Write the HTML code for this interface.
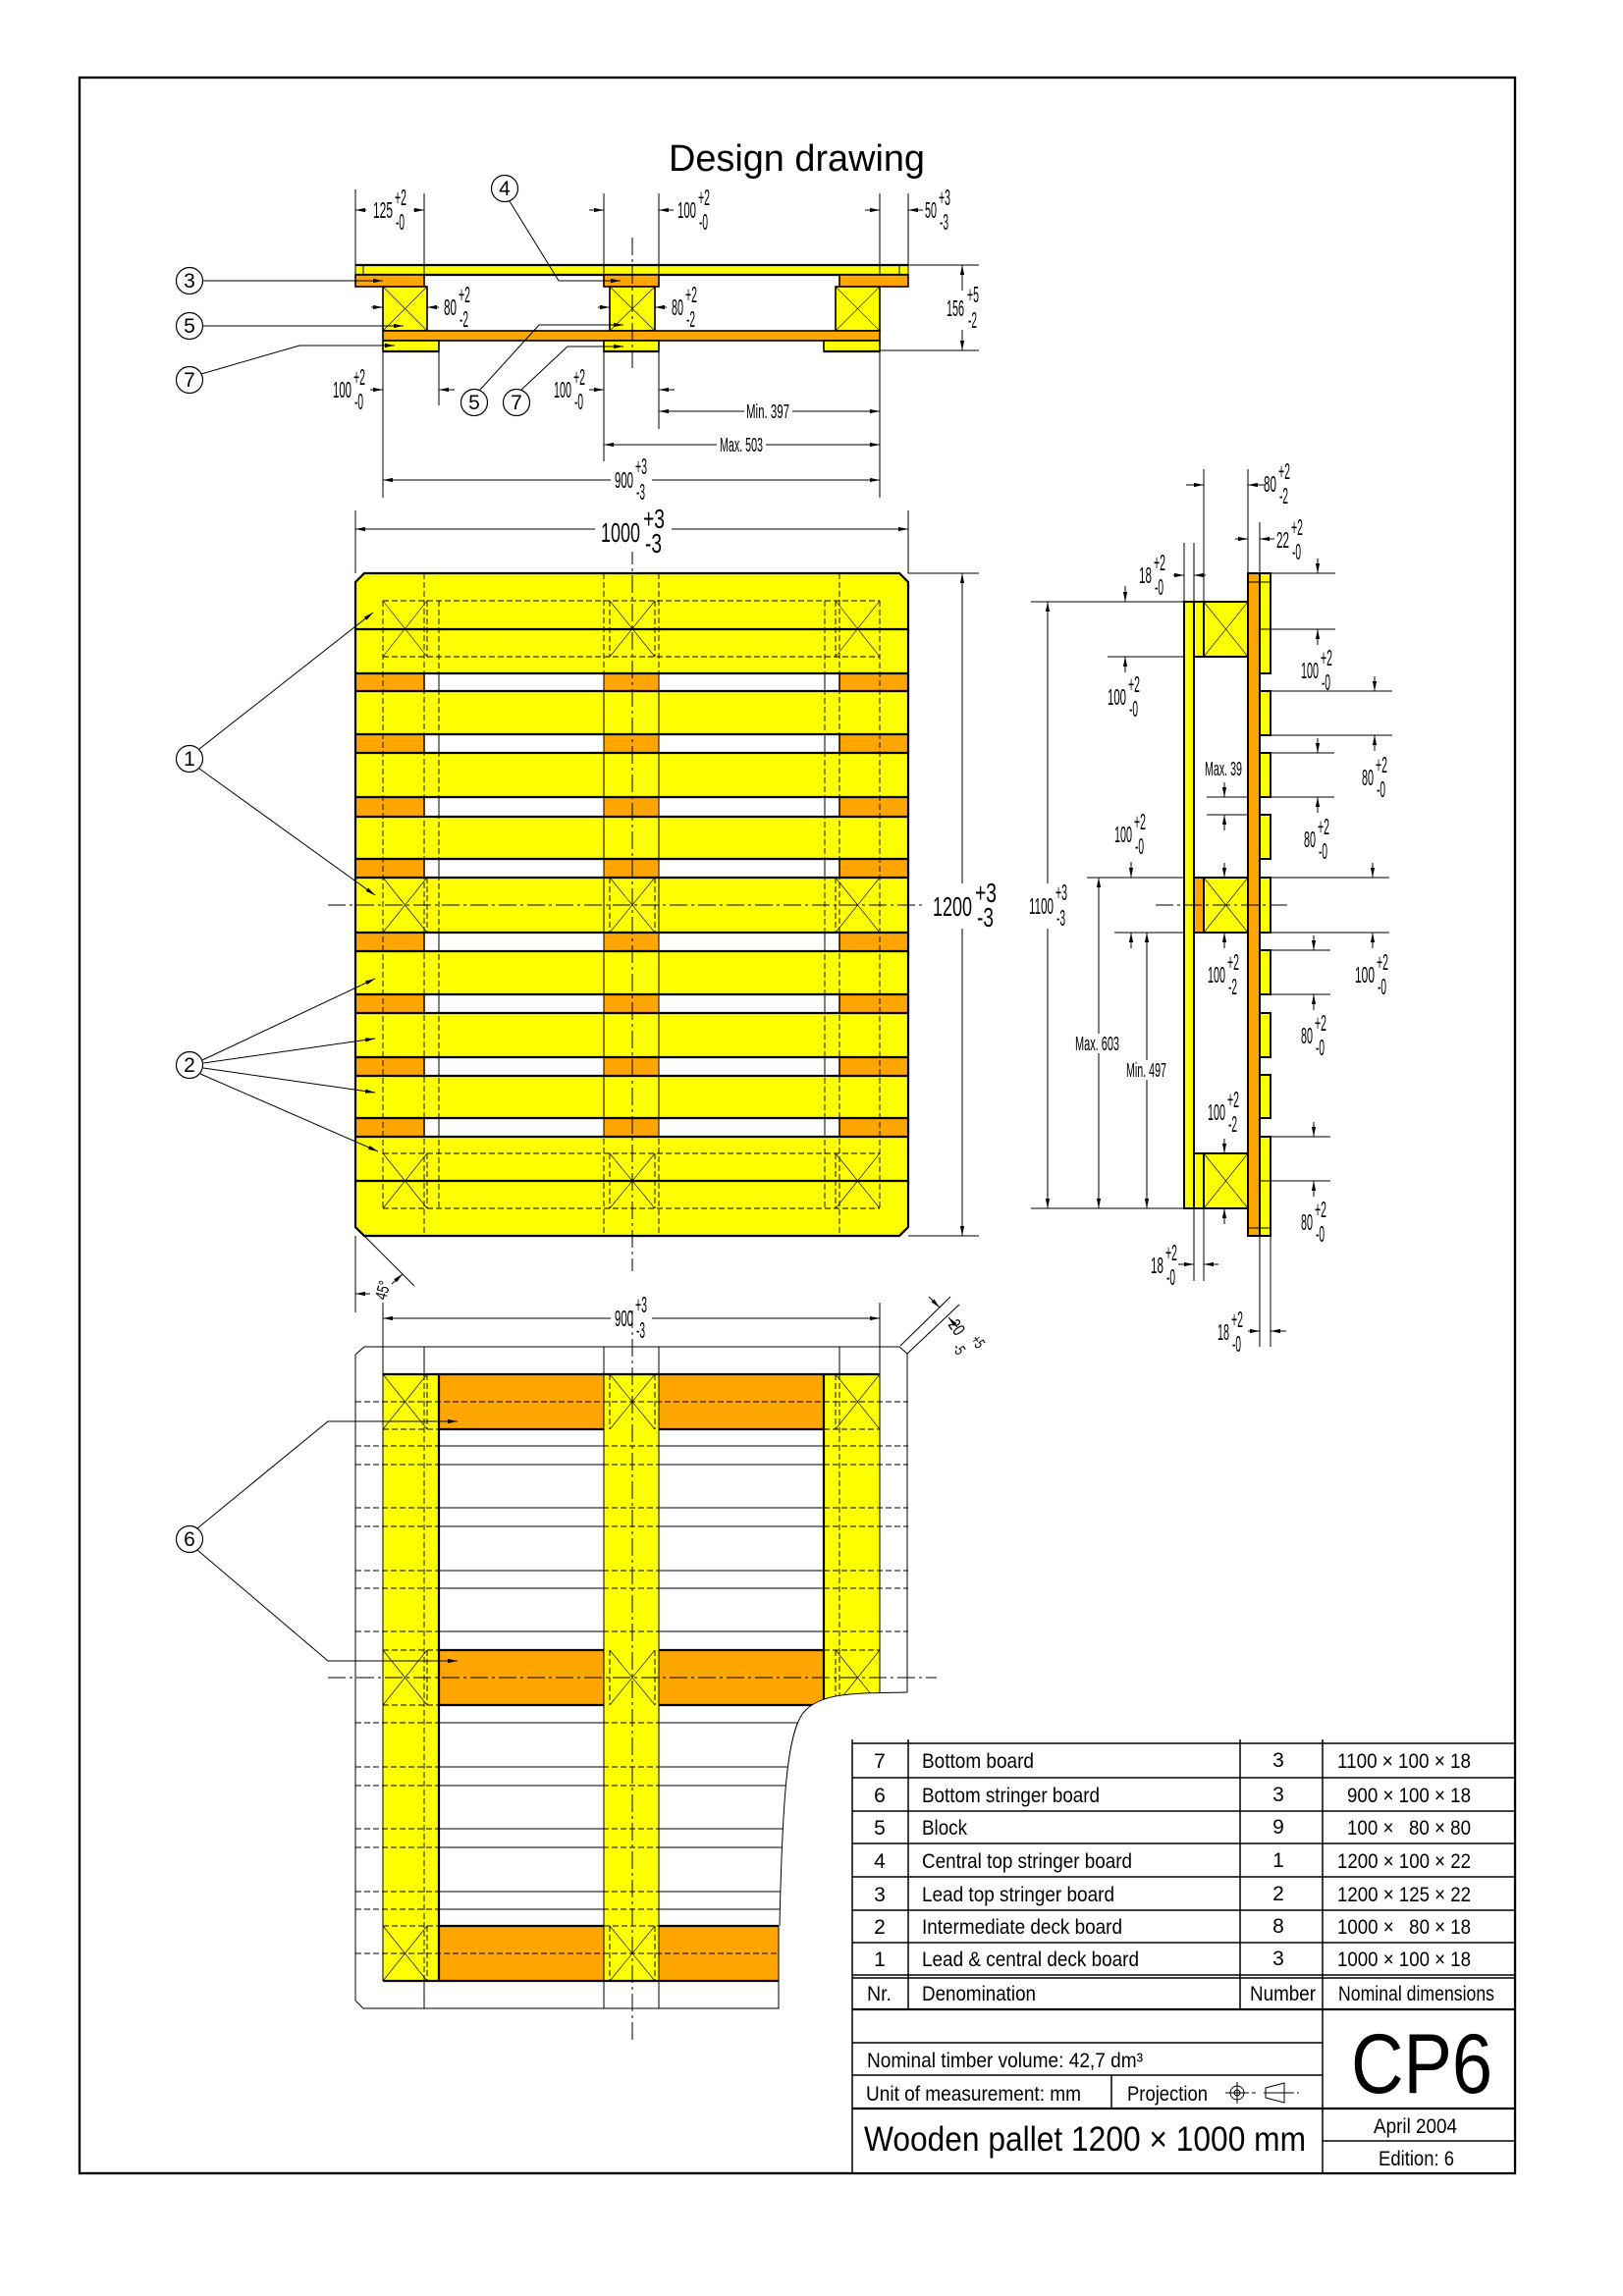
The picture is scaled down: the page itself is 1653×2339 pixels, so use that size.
<!DOCTYPE html>
<html><head><meta charset="utf-8"><title>Design drawing CP6</title>
<style>
html,body{margin:0;padding:0;background:#fff}
svg{display:block}
.l{stroke:#000;stroke-width:1;fill:none}
.m{stroke:#000;stroke-width:1.5;fill:none}
.k{stroke:#000;stroke-width:2.2;fill:none}
.d{stroke:#000;stroke-width:0.9;fill:none;stroke-dasharray:6 3}
.c{stroke:#000;stroke-width:1;fill:none;stroke-dasharray:18 4 3 4}
.x{stroke:#000;stroke-width:0.6;fill:none}
.y{fill:#ffff00}
.o{fill:#ffa500}
.w{fill:#fff}
text{font-family:"Liberation Sans",sans-serif;fill:#000}
.dm text{font-size:23px}
.bg text{font-size:28px}
.ar{stroke:#000;stroke-width:1;fill:none;marker-end:url(#a)}
.dd{stroke:#000;stroke-width:1;fill:none;marker-start:url(#a);marker-end:url(#a)}
.tb text{font-size:21px}
</style></head><body>
<svg width="1653" height="2339" viewBox="0 0 1653 2339" xmlns="http://www.w3.org/2000/svg">
<defs><marker id="a" markerWidth="10" markerHeight="5" refX="10" refY="2.5" orient="auto-start-reverse" markerUnits="userSpaceOnUse"><path d="M0,0.4 L10,2.5 L0,4.6 z" fill="#000"/></marker></defs>
<rect width="1653" height="2339" fill="#fff"/>

<!-- frame -->
<rect x="81" y="79" width="1462" height="2135" class="k"/>

<!-- title -->
<text x="681" y="174" font-size="38" textLength="261" lengthAdjust="spacingAndGlyphs">Design drawing</text>

<!-- ================= TOP SIDE SECTION ================= -->
<rect x="362" y="270" width="563" height="10" class="y"/>
<path class="k" d="M362 270H925M362 280H925"/>
<path class="l" d="M362 270V280M925 270V280M370 270V280M916 270V280M432 270V280M615 270V280M671 270V280M896 270V280"/>
<rect x="362" y="280" width="70" height="12" class="o" stroke="#000" stroke-width="1.6"/>
<rect x="615" y="280" width="56" height="12" class="o" stroke="#000" stroke-width="1.6"/>
<rect x="855" y="280" width="70" height="12" class="o" stroke="#000" stroke-width="1.6"/>
<rect x="390" y="292" width="45" height="45" class="y" stroke="#000" stroke-width="1.6"/>
<rect x="621" y="292" width="46" height="45" class="y" stroke="#000" stroke-width="1.6"/>
<rect x="851" y="292" width="45" height="45" class="y" stroke="#000" stroke-width="1.6"/>
<path class="x" d="M390 292L435 337M435 292L390 337M621 292L667 337M667 292L621 337M851 292L896 337M896 292L851 337"/>
<rect x="390" y="337" width="506" height="10" class="o" stroke="#000" stroke-width="1.6"/>
<rect x="390" y="347" width="57" height="11" class="y" stroke="#000" stroke-width="1.6"/>
<rect x="615" y="347" width="56" height="11" class="y" stroke="#000" stroke-width="1.6"/>
<rect x="839" y="347" width="57" height="11" class="y" stroke="#000" stroke-width="1.6"/>
<path class="k" d="M390 358H447M615 358H671M839 358H896"/>
<path class="c" d="M644 242V375"/>
<!-- extension lines -->
<path class="l" d="M362 193V270M432 197V270M615 197V270M615 358V470M671 197V270M671 358V437M896 197V270M896 358V507M925 197V270M390 358V507M447 358V413M925 270H997M896 357H997"/>
<!-- dim arrows top -->
<path class="ar" d="M373 214H362"/><path class="ar" d="M421 214H432"/>
<path class="ar" d="M600 214H615"/><path class="ar" d="M686 214H671"/>
<path class="ar" d="M881 214H896"/><path class="ar" d="M940 214H925"/>
<path class="ar" d="M378 313H390"/><path class="ar" d="M447 313H435"/>
<path class="ar" d="M609 313H621"/><path class="ar" d="M679 313H667"/>
<path class="ar" d="M377 397H390"/><path class="ar" d="M463 397H447"/>
<path class="ar" d="M600 397H615"/><path class="ar" d="M687 397H671"/>
<path class="dd" d="M980 270V357"/>
<path class="dd" d="M671 419H896"/>
<path class="dd" d="M615 453H896"/>
<path class="dd" d="M390 489H896"/>
<rect x="961" y="296" width="38" height="40" class="w"/>
<rect x="758" y="409" width="49" height="20" class="w"/>
<rect x="730" y="443" width="50" height="20" class="w"/>
<rect x="622" y="470" width="42" height="38" class="w"/>
<g class="dm" transform="translate(380,214)"><text y="8" textLength="20" lengthAdjust="spacingAndGlyphs">125</text><text x="22" y="-5" textLength="12" lengthAdjust="spacingAndGlyphs">+2</text><text x="23" y="20" textLength="9" lengthAdjust="spacingAndGlyphs">-0</text></g>
<g class="dm" transform="translate(690,214)"><text y="8" textLength="19" lengthAdjust="spacingAndGlyphs">100</text><text x="21" y="-5" textLength="12" lengthAdjust="spacingAndGlyphs">+2</text><text x="22" y="20" textLength="9" lengthAdjust="spacingAndGlyphs">-0</text></g>
<g class="dm" transform="translate(942,214)"><text y="8" textLength="12" lengthAdjust="spacingAndGlyphs">50</text><text x="14" y="-5" textLength="12" lengthAdjust="spacingAndGlyphs">+3</text><text x="15" y="20" textLength="9" lengthAdjust="spacingAndGlyphs">-3</text></g>
<g class="dm" transform="translate(452,313)"><text y="8" textLength="13" lengthAdjust="spacingAndGlyphs">80</text><text x="15" y="-5" textLength="12" lengthAdjust="spacingAndGlyphs">+2</text><text x="16" y="20" textLength="9" lengthAdjust="spacingAndGlyphs">-2</text></g>
<g class="dm" transform="translate(684,313)"><text y="8" textLength="12" lengthAdjust="spacingAndGlyphs">80</text><text x="14" y="-5" textLength="12" lengthAdjust="spacingAndGlyphs">+2</text><text x="15" y="20" textLength="9" lengthAdjust="spacingAndGlyphs">-2</text></g>
<g class="dm" transform="translate(964,314)"><text y="8" textLength="18" lengthAdjust="spacingAndGlyphs">156</text><text x="21" y="-6" textLength="12" lengthAdjust="spacingAndGlyphs">+5</text><text x="22" y="20" textLength="9" lengthAdjust="spacingAndGlyphs">-2</text></g>
<g class="dm" transform="translate(339,397)"><text y="8" textLength="19" lengthAdjust="spacingAndGlyphs">100</text><text x="21" y="-5" textLength="12" lengthAdjust="spacingAndGlyphs">+2</text><text x="22" y="20" textLength="9" lengthAdjust="spacingAndGlyphs">-0</text></g>
<g class="dm" transform="translate(564,397)"><text y="8" textLength="18" lengthAdjust="spacingAndGlyphs">100</text><text x="20" y="-5" textLength="12" lengthAdjust="spacingAndGlyphs">+2</text><text x="21" y="20" textLength="9" lengthAdjust="spacingAndGlyphs">-0</text></g>
<g class="dm" transform="translate(626,489)"><text y="8" textLength="19" lengthAdjust="spacingAndGlyphs">900</text><text x="21" y="-6" textLength="12" lengthAdjust="spacingAndGlyphs">+3</text><text x="22" y="20" textLength="9" lengthAdjust="spacingAndGlyphs">-3</text></g>
<text x="760" y="426" font-size="20" textLength="44" lengthAdjust="spacingAndGlyphs">Min. 397</text>
<text x="733" y="460" font-size="20" textLength="44" lengthAdjust="spacingAndGlyphs">Max. 503</text>
<!-- circles top -->
<g fill="#fff" stroke="#000" stroke-width="1.2">
<circle cx="193" cy="286" r="13.5"/><circle cx="193" cy="332" r="13.5"/><circle cx="193" cy="387" r="13.5"/>
<circle cx="514" cy="192" r="13.5"/><circle cx="483" cy="410" r="13.5"/><circle cx="526" cy="410" r="13.5"/>
</g>
<g font-size="21" text-anchor="middle">
<text x="193" y="293">3</text><text x="193" y="339">5</text><text x="193" y="394">7</text>
<text x="514" y="199">4</text><text x="483" y="417">5</text><text x="526" y="417">7</text>
</g>
<path class="ar" d="M207 286H390"/>
<path class="ar" d="M207 332H411"/>
<path class="ar" d="M205 381L305 352H402"/>
<path class="ar" d="M519 205L569 286H632"/>
<path class="ar" d="M489 397L549 331H635"/>
<path class="ar" d="M531 397L578 353H635"/>

<!-- ================= TOP VIEW ================= -->
<path class="l" d="M362 520V584M925 520V584M925 584H997M925 1259H997"/>
<path class="dd" d="M362 539H925"/>
<path class="dd" d="M980 584V1259"/>
<path d="M362 593L371 584H916L925 593V1250L916 1259H371L362 1250Z" class="y"/>
<!-- gaps -->
<g>
<rect x="362" y="686" width="563" height="18" class="w"/><rect x="362" y="748" width="563" height="19" class="w"/>
<rect x="362" y="812" width="563" height="20" class="w"/><rect x="362" y="875" width="563" height="19" class="w"/>
<rect x="362" y="950" width="563" height="19" class="w"/><rect x="362" y="1013" width="563" height="19" class="w"/>
<rect x="362" y="1077" width="563" height="19" class="w"/><rect x="362" y="1139" width="563" height="19" class="w"/>
</g>
<g class="o">
<rect x="362" y="686" width="70" height="18"/><rect x="615" y="686" width="56" height="18"/><rect x="855" y="686" width="70" height="18"/>
<rect x="362" y="748" width="70" height="19"/><rect x="615" y="748" width="56" height="19"/><rect x="855" y="748" width="70" height="19"/>
<rect x="362" y="812" width="70" height="20"/><rect x="615" y="812" width="56" height="20"/><rect x="855" y="812" width="70" height="20"/>
<rect x="362" y="875" width="70" height="19"/><rect x="615" y="875" width="56" height="19"/><rect x="855" y="875" width="70" height="19"/>
<rect x="362" y="950" width="70" height="19"/><rect x="615" y="950" width="56" height="19"/><rect x="855" y="950" width="70" height="19"/>
<rect x="362" y="1013" width="70" height="19"/><rect x="615" y="1013" width="56" height="19"/><rect x="855" y="1013" width="70" height="19"/>
<rect x="362" y="1077" width="70" height="19"/><rect x="615" y="1077" width="56" height="19"/><rect x="855" y="1077" width="70" height="19"/>
<rect x="362" y="1139" width="70" height="19"/><rect x="615" y="1139" width="56" height="19"/><rect x="855" y="1139" width="70" height="19"/>
</g>
<path class="m" d="M432 686V704M855 686V704M432 748V767M855 748V767M432 812V832M855 812V832M432 875V894M855 875V894M432 950V969M855 950V969M432 1013V1032M855 1013V1032M432 1077V1096M855 1077V1096M432 1139V1158M855 1139V1158"/>
<path class="l" d="M447 686V704M840 686V704M447 748V767M840 748V767M447 812V832M840 812V832M447 875V894M840 875V894M447 950V969M840 950V969M447 1013V1032M840 1013V1032M447 1077V1096M840 1077V1096M447 1139V1158M840 1139V1158M615 686V1158M671 686V1158"/>
<!-- hidden lines -->
<path class="d" d="M432 584V1259M615 584V1259M671 584V1259M855 584V1259M390 612V1231M447 612V1231M840 612V1231M896 612V1231M390 612H896M390 669H896M390 1175H896M390 1231H896M435 612V669M621 612V669M667 612V669M851 612V669M435 894V950M621 894V950M667 894V950M851 894V950M435 1175V1231M621 1175V1231M667 1175V1231M851 1175V1231"/>
<path class="x" d="M390 612L435 669M435 612L390 669M621 612L667 669M667 612L621 669M851 612L896 669M896 612L851 669M390 894L435 950M435 894L390 950M621 894L667 950M667 894L621 950M851 894L896 950M896 894L851 950M390 1175L435 1231M435 1175L390 1231M621 1175L667 1231M667 1175L621 1231M851 1175L896 1231M896 1175L851 1231"/>
<path class="k" d="M362 641H925M362 686H925M362 704H925M362 748H925M362 767H925M362 812H925M362 832H925M362 875H925M362 894H925M362 950H925M362 969H925M362 1013H925M362 1032H925M362 1077H925M362 1096H925M362 1139H925M362 1158H925M362 1203H925"/>
<path d="M362 593L371 584H916L925 593V1250L916 1259H371L362 1250Z" class="k"/>
<path class="c" d="M644 557V1295M334 922H942"/>
<rect x="606" y="518" width="78" height="44" class="w"/>
<rect x="944" y="900" width="74" height="46" class="w"/>
<g class="bg" transform="translate(612,542)"><text y="10" textLength="40" lengthAdjust="spacingAndGlyphs">1000</text><text x="43" y="-4" textLength="22" lengthAdjust="spacingAndGlyphs">+3</text><text x="45" y="21" textLength="17" lengthAdjust="spacingAndGlyphs">-3</text></g>
<g class="bg" transform="translate(950,923)"><text y="10" textLength="40" lengthAdjust="spacingAndGlyphs">1200</text><text x="43" y="-4" textLength="22" lengthAdjust="spacingAndGlyphs">+3</text><text x="45" y="21" textLength="17" lengthAdjust="spacingAndGlyphs">-3</text></g>
<!-- 45 deg -->
<path class="l" d="M362 1250L422 1310M362 1259V1337"/>
<path class="ar" d="M377 1318H362"/>
<path class="ar" d="M399 1308L410 1298"/>
<text transform="translate(393,1325) rotate(-75)" font-size="17" textLength="19" lengthAdjust="spacingAndGlyphs">45°</text>
<!-- circles 1,2 -->
<circle cx="193" cy="773" r="13.5" fill="#fff" stroke="#000" stroke-width="1.2"/>
<circle cx="193" cy="1085" r="13.5" fill="#fff" stroke="#000" stroke-width="1.2"/>
<text x="193" y="780" font-size="21" text-anchor="middle">1</text>
<text x="193" y="1092" font-size="21" text-anchor="middle">2</text>
<path class="ar" d="M203 763L380 624"/>
<path class="ar" d="M203 783L382 912"/>
<path class="ar" d="M206 1080L382 997"/>
<path class="ar" d="M207 1083L382 1058"/>
<path class="ar" d="M207 1088L382 1113"/>
<path class="ar" d="M204 1094L385 1173"/>

<!-- ================= BOTTOM VIEW ================= -->
<path class="l" d="M390 1327V1400M896 1327V1400M432 1372V1400M615 1372V1400M671 1372V1400M855 1372V1400"/>
<path class="dd" d="M390 1343H896"/>
<rect x="622" y="1324" width="42" height="40" class="w"/>
<g class="dm" transform="translate(626,1343)"><text y="8" textLength="19" lengthAdjust="spacingAndGlyphs">900</text><text x="21" y="-6" textLength="12" lengthAdjust="spacingAndGlyphs">+3</text><text x="22" y="20" textLength="9" lengthAdjust="spacingAndGlyphs">-3</text></g>
<!-- 20 chamfer -->
<path class="l" d="M917 1371L968 1321M924 1379L977 1329"/>
<path class="ar" d="M946 1321L957 1332"/>
<path class="ar" d="M975 1352L966 1342"/>
<g transform="translate(970,1346) rotate(55)"><text x="0" y="6" font-size="18" textLength="15" lengthAdjust="spacingAndGlyphs">20</text><text x="26" y="-4" font-size="16" textLength="12" lengthAdjust="spacingAndGlyphs">+5</text><text x="22" y="16" font-size="16" textLength="10" lengthAdjust="spacingAndGlyphs">-5</text></g>
<!-- fills -->
<rect x="390" y="1400" width="57" height="618" class="y"/>
<rect x="615" y="1400" width="56" height="618" class="y"/>
<rect x="839" y="1400" width="57" height="340" class="y"/>
<g class="o">
<rect x="447" y="1400" width="168" height="56"/><rect x="671" y="1400" width="168" height="56"/>
<rect x="447" y="1681" width="168" height="56"/><rect x="671" y="1681" width="168" height="56"/>
<rect x="447" y="1962" width="168" height="56"/><rect x="671" y="1962" width="122" height="56"/>
</g>
<!-- deck lines from below -->
<path class="d" d="M362 1428H925M362 1473H925M362 1492H925M362 1536H925M362 1555H925M362 1600H925M362 1618H925M362 1662H925M362 1755H925M362 1800H925M362 1819H925M362 1863H925M362 1882H925M362 1927H925M362 1945H925M362 1990H925"/>
<path class="l" d="M447 1473H615M671 1473H839M447 1492H615M671 1492H839M447 1536H615M671 1536H839M447 1555H615M671 1555H839M447 1600H615M671 1600H839M447 1618H615M671 1618H839M447 1662H615M671 1662H839M447 1755H615M671 1755H839M447 1800H615M671 1800H839M447 1819H615M671 1819H839M447 1863H615M671 1863H839M447 1882H615M671 1882H839M447 1927H615M671 1927H839M447 1945H615M671 1945H839"/>
<path class="d" d="M432 1400V2018M855 1400V1740M435 1400V1456M621 1400V1456M667 1400V1456M851 1400V1456M435 1681V1737M621 1681V1737M667 1681V1737M851 1681V1737M435 1962V2018M621 1962V2018M667 1962V2018M390 1456H447M839 1456H896M390 1681H447M839 1681H896M390 1737H447M839 1737H896M390 1962H447M615 1962H671M390 1400H447"/>
<path class="x" d="M390 1400L435 1456M435 1400L390 1456M621 1400L667 1456M667 1400L621 1456M851 1400L896 1456M896 1400L851 1456M390 1681L435 1737M435 1681L390 1737M621 1681L667 1737M667 1681L621 1737M851 1681L896 1737M896 1681L851 1737M390 1962L435 2018M435 1962L390 2018M621 1962L667 2018M667 1962L621 2018"/>
<path class="l" d="M390 1400V2018M615 1400V2018M671 1400V2018M896 1400V1740M432 2018V2046M615 2018V2046M671 2018V2046"/>
<path class="k" d="M447 1400V2018M839 1400V1740M390 1400H896M447 1456H615M671 1456H839M447 1681H615M671 1681H839M447 1737H615M671 1737H839M447 1962H615M671 1962H793M390 2018H793"/>
<path class="c" d="M644 1335V2078M334 1709H954"/>
<!-- cut-away mask -->
<path d="M926 1724C870 1725 835 1724 818 1745C803 1765 797 1820 794 1962V2100H1000V1724Z" fill="#fff"/>
<path class="l" d="M362 1380L371 1372H916L924 1379V1724M362 1380V2038L370 2046H793V1962"/>
<path class="l" d="M924 1724C870 1725 835 1724 818 1745C803 1765 797 1820 794 1962"/>
<!-- circle 6 -->
<circle cx="193" cy="1568" r="13.5" fill="#fff" stroke="#000" stroke-width="1.2"/>
<text x="193" y="1575" font-size="21" text-anchor="middle">6</text>
<path class="ar" d="M201 1557L334 1448H466"/>
<path class="ar" d="M201 1579L334 1692H466"/>

<!-- ================= SIDE VIEW (right) ================= -->
<rect x="1206" y="613" width="10" height="618" class="y" stroke="#000" stroke-width="2"/>
<rect x="1216" y="613" width="10" height="56" class="y" stroke="#000" stroke-width="2"/>
<rect x="1216" y="894" width="10" height="56" class="o" stroke="#000" stroke-width="2"/>
<rect x="1216" y="1175" width="10" height="56" class="y" stroke="#000" stroke-width="2"/>
<rect x="1226" y="613" width="45" height="56" class="y" stroke="#000" stroke-width="2"/>
<rect x="1226" y="894" width="45" height="56" class="y" stroke="#000" stroke-width="2"/>
<rect x="1226" y="1175" width="45" height="56" class="y" stroke="#000" stroke-width="2"/>
<path class="x" d="M1226 613L1271 669M1271 613L1226 669M1226 894L1271 950M1271 894L1226 950M1226 1175L1271 1231M1271 1175L1226 1231"/>
<rect x="1271" y="584" width="12" height="675" class="o" stroke="#000" stroke-width="2"/>
<g class="y" stroke="#000" stroke-width="2">
<rect x="1283" y="584" width="11" height="102"/><rect x="1283" y="704" width="11" height="45"/>
<rect x="1283" y="767" width="11" height="45"/><rect x="1283" y="830" width="11" height="45"/>
<rect x="1283" y="894" width="11" height="56"/><rect x="1283" y="968" width="11" height="45"/>
<rect x="1283" y="1032" width="11" height="45"/><rect x="1283" y="1095" width="11" height="44"/>
<rect x="1283" y="1158" width="11" height="101"/>
</g>
<path class="l" d="M1283 641H1294M1283 1203H1294M1271 593H1294M1271 1251H1294"/>
<path class="c" d="M1177 922H1313"/>
<!-- side dims -->
<path class="l" d="M1050 613H1206M1050 1231H1206M1107 894H1206M1135 950H1206M1128 669H1206M1206 553V613M1216 553V613M1226 478V613M1271 478V584M1283 532V584M1216 1231V1305M1226 1231V1305M1283 1259V1372M1294 1259V1372"/>
<path class="l" d="M1294 584H1360M1294 641H1360M1294 704H1418M1294 749H1418M1294 767H1359M1294 812H1359M1294 894H1415M1294 950H1415M1294 968H1355M1294 1013H1355M1294 1158H1355M1294 1203H1355M1229 812H1271M1229 830H1271"/>
<path class="dd" d="M1067 613V1231"/>
<path class="dd" d="M1119 894V1231"/>
<path class="dd" d="M1168 950V1231"/>
<path class="ar" d="M1146 597V613"/><path class="ar" d="M1146 685V669"/>
<path class="ar" d="M1152 878V894"/><path class="ar" d="M1152 966V950"/>
<path class="ar" d="M1195 586H1206"/><path class="ar" d="M1228 586H1216"/>
<path class="ar" d="M1208 494H1226"/><path class="ar" d="M1288 494H1271"/>
<path class="ar" d="M1258 549H1271"/><path class="ar" d="M1298 549H1283"/>
<path class="ar" d="M1342 569V584"/><path class="ar" d="M1342 657V641"/>
<path class="ar" d="M1400 689V704"/><path class="ar" d="M1400 765V749"/>
<path class="ar" d="M1342 752V767"/><path class="ar" d="M1342 828V812"/>
<path class="ar" d="M1398 879V894"/><path class="ar" d="M1398 966V950"/>
<path class="ar" d="M1338 953V968"/><path class="ar" d="M1338 1029V1013"/>
<path class="ar" d="M1338 1143V1158"/><path class="ar" d="M1338 1219V1203"/>
<path class="ar" d="M1247 797V812"/><path class="ar" d="M1247 846V830"/>
<path class="ar" d="M1247 879V894"/><path class="ar" d="M1247 966V950"/>
<path class="ar" d="M1247 1160V1175"/><path class="ar" d="M1247 1247V1231"/>
<path class="ar" d="M1200 1288H1216"/><path class="ar" d="M1241 1288H1226"/>
<path class="ar" d="M1271 1356H1283"/><path class="ar" d="M1310 1356H1294"/>
<rect x="1045" y="900" width="44" height="46" class="w"/>
<rect x="1093" y="1053" width="50" height="20" class="w"/>
<rect x="1145" y="1080" width="46" height="20" class="w"/>
<g class="dm" transform="translate(1287,493)"><text y="8" textLength="13" lengthAdjust="spacingAndGlyphs">80</text><text x="15" y="-5" textLength="12" lengthAdjust="spacingAndGlyphs">+2</text><text x="16" y="20" textLength="9" lengthAdjust="spacingAndGlyphs">-2</text></g>
<g class="dm" transform="translate(1300,550)"><text y="8" textLength="13" lengthAdjust="spacingAndGlyphs">22</text><text x="15" y="-5" textLength="12" lengthAdjust="spacingAndGlyphs">+2</text><text x="16" y="20" textLength="9" lengthAdjust="spacingAndGlyphs">-0</text></g>
<g class="dm" transform="translate(1160,586)"><text y="8" textLength="13" lengthAdjust="spacingAndGlyphs">18</text><text x="15" y="-5" textLength="12" lengthAdjust="spacingAndGlyphs">+2</text><text x="16" y="20" textLength="9" lengthAdjust="spacingAndGlyphs">-0</text></g>
<g class="dm" transform="translate(1128,710)"><text y="8" textLength="19" lengthAdjust="spacingAndGlyphs">100</text><text x="21" y="-5" textLength="12" lengthAdjust="spacingAndGlyphs">+2</text><text x="22" y="20" textLength="9" lengthAdjust="spacingAndGlyphs">-0</text></g>
<g class="dm" transform="translate(1325,683)"><text y="8" textLength="18" lengthAdjust="spacingAndGlyphs">100</text><text x="20" y="-5" textLength="12" lengthAdjust="spacingAndGlyphs">+2</text><text x="21" y="20" textLength="9" lengthAdjust="spacingAndGlyphs">-0</text></g>
<g class="dm" transform="translate(1387,792)"><text y="8" textLength="12" lengthAdjust="spacingAndGlyphs">80</text><text x="14" y="-5" textLength="12" lengthAdjust="spacingAndGlyphs">+2</text><text x="15" y="20" textLength="9" lengthAdjust="spacingAndGlyphs">-0</text></g>
<g class="dm" transform="translate(1328,855)"><text y="8" textLength="12" lengthAdjust="spacingAndGlyphs">80</text><text x="14" y="-5" textLength="12" lengthAdjust="spacingAndGlyphs">+2</text><text x="15" y="20" textLength="9" lengthAdjust="spacingAndGlyphs">-0</text></g>
<g class="dm" transform="translate(1135,850)"><text y="8" textLength="18" lengthAdjust="spacingAndGlyphs">100</text><text x="20" y="-5" textLength="12" lengthAdjust="spacingAndGlyphs">+2</text><text x="21" y="20" textLength="9" lengthAdjust="spacingAndGlyphs">-0</text></g>
<g class="dm" transform="translate(1048,923)"><text y="8" textLength="25" lengthAdjust="spacingAndGlyphs">1100</text><text x="27" y="-6" textLength="12" lengthAdjust="spacingAndGlyphs">+3</text><text x="28" y="20" textLength="9" lengthAdjust="spacingAndGlyphs">-3</text></g>
<g class="dm" transform="translate(1230,993)"><text y="8" textLength="18" lengthAdjust="spacingAndGlyphs">100</text><text x="20" y="-5" textLength="12" lengthAdjust="spacingAndGlyphs">+2</text><text x="21" y="20" textLength="9" lengthAdjust="spacingAndGlyphs">-2</text></g>
<g class="dm" transform="translate(1380,993)"><text y="8" textLength="20" lengthAdjust="spacingAndGlyphs">100</text><text x="22" y="-5" textLength="12" lengthAdjust="spacingAndGlyphs">+2</text><text x="23" y="20" textLength="9" lengthAdjust="spacingAndGlyphs">-0</text></g>
<g class="dm" transform="translate(1325,1055)"><text y="8" textLength="12" lengthAdjust="spacingAndGlyphs">80</text><text x="14" y="-5" textLength="12" lengthAdjust="spacingAndGlyphs">+2</text><text x="15" y="20" textLength="9" lengthAdjust="spacingAndGlyphs">-0</text></g>
<g class="dm" transform="translate(1230,1133)"><text y="8" textLength="18" lengthAdjust="spacingAndGlyphs">100</text><text x="20" y="-5" textLength="12" lengthAdjust="spacingAndGlyphs">+2</text><text x="21" y="20" textLength="9" lengthAdjust="spacingAndGlyphs">-2</text></g>
<g class="dm" transform="translate(1325,1245)"><text y="8" textLength="12" lengthAdjust="spacingAndGlyphs">80</text><text x="14" y="-5" textLength="12" lengthAdjust="spacingAndGlyphs">+2</text><text x="15" y="20" textLength="9" lengthAdjust="spacingAndGlyphs">-0</text></g>
<g class="dm" transform="translate(1172,1289)"><text y="8" textLength="13" lengthAdjust="spacingAndGlyphs">18</text><text x="15" y="-5" textLength="12" lengthAdjust="spacingAndGlyphs">+2</text><text x="16" y="20" textLength="9" lengthAdjust="spacingAndGlyphs">-0</text></g>
<g class="dm" transform="translate(1240,1357)"><text y="8" textLength="12" lengthAdjust="spacingAndGlyphs">18</text><text x="14" y="-5" textLength="12" lengthAdjust="spacingAndGlyphs">+2</text><text x="15" y="20" textLength="9" lengthAdjust="spacingAndGlyphs">-0</text></g>
<text x="1227" y="790" font-size="20" textLength="38" lengthAdjust="spacingAndGlyphs">Max. 39</text>
<text x="1095" y="1070" font-size="20" textLength="45" lengthAdjust="spacingAndGlyphs">Max. 603</text>
<text x="1147" y="1097" font-size="20" textLength="41" lengthAdjust="spacingAndGlyphs">Min. 497</text>

<!-- ================= TABLE ================= -->
<rect x="868" y="1772" width="675" height="442" class="w"/>
<path class="m" d="M868 1772V2214M925 1772V2047M1263 1772V2047M1347 1772V2214M868 1776H1543M868 1811H1543M868 1845H1543M868 1878H1543M868 1912H1543M868 1946H1543M868 1979H1543M868 2012H1543M868 2015H1543M868 2081H1347M868 2114H1347M1132 2114V2148M1347 2181H1543"/>
<path class="k" d="M868 2047H1543M868 2148H1543"/>
<g class="tb">
<g text-anchor="middle">
<text x="896" y="1801">7</text><text x="896" y="1836">6</text><text x="896" y="1869">5</text><text x="896" y="1903">4</text>
<text x="896" y="1937">3</text><text x="896" y="1970">2</text><text x="896" y="2003">1</text>
<text x="1302" y="1800">3</text><text x="1302" y="1835">3</text><text x="1302" y="1868">9</text><text x="1302" y="1902">1</text>
<text x="1302" y="1936">2</text><text x="1302" y="1969">8</text><text x="1302" y="2002">3</text>
</g>
<text x="939" y="1801" textLength="114" lengthAdjust="spacingAndGlyphs">Bottom board</text>
<text x="939" y="1836" textLength="181" lengthAdjust="spacingAndGlyphs">Bottom stringer board</text>
<text x="939" y="1869" textLength="46" lengthAdjust="spacingAndGlyphs">Block</text>
<text x="939" y="1903" textLength="214" lengthAdjust="spacingAndGlyphs">Central top stringer board</text>
<text x="939" y="1937" textLength="196" lengthAdjust="spacingAndGlyphs">Lead top stringer board</text>
<text x="939" y="1970" textLength="204" lengthAdjust="spacingAndGlyphs">Intermediate deck board</text>
<text x="939" y="2003" textLength="221" lengthAdjust="spacingAndGlyphs">Lead &amp; central deck board</text>
<text x="1362" y="1801" textLength="136" lengthAdjust="spacingAndGlyphs">1100 × 100 × 18</text>
<text x="1372" y="1836" textLength="126" lengthAdjust="spacingAndGlyphs">900 × 100 × 18</text>
<text x="1372" y="1869" textLength="126" lengthAdjust="spacingAndGlyphs">100 ×&#160;&#160;&#160;80 × 80</text>
<text x="1362" y="1903" textLength="136" lengthAdjust="spacingAndGlyphs">1200 × 100 × 22</text>
<text x="1362" y="1937" textLength="136" lengthAdjust="spacingAndGlyphs">1200 × 125 × 22</text>
<text x="1362" y="1970" textLength="136" lengthAdjust="spacingAndGlyphs">1000 ×&#160;&#160;&#160;80 × 18</text>
<text x="1362" y="2003" textLength="136" lengthAdjust="spacingAndGlyphs">1000 × 100 × 18</text>
<text x="883" y="2038" textLength="25" lengthAdjust="spacingAndGlyphs">Nr.</text>
<text x="939" y="2038" textLength="116" lengthAdjust="spacingAndGlyphs">Denomination</text>
<text x="1273" y="2038" textLength="67" lengthAdjust="spacingAndGlyphs">Number</text>
<text x="1363" y="2038" textLength="159" lengthAdjust="spacingAndGlyphs">Nominal dimensions</text>
<text x="883" y="2106" textLength="281" lengthAdjust="spacingAndGlyphs">Nominal timber volume: 42,7 dm³</text>
<text x="882" y="2140" textLength="219" lengthAdjust="spacingAndGlyphs">Unit of measurement: mm</text>
<text x="1148" y="2140" textLength="82" lengthAdjust="spacingAndGlyphs">Projection</text>
<text x="1399" y="2173" textLength="85" lengthAdjust="spacingAndGlyphs">April 2004</text>
<text x="1404" y="2206" textLength="77" lengthAdjust="spacingAndGlyphs">Edition: 6</text>
</g>
<!-- projection symbol -->
<circle cx="1260" cy="2132" r="7" class="l"/>
<circle cx="1260" cy="2132" r="3" class="l"/>
<path class="l" d="M1248 2132H1272M1260 2121V2143M1275 2132H1279M1287 2132H1318M1321 2132H1323"/>
<path class="l" d="M1289 2127L1308 2122V2142L1289 2137Z"/>
<text x="880" y="2191" font-size="35" textLength="450" lengthAdjust="spacingAndGlyphs">Wooden pallet 1200 × 1000 mm</text>
<text x="1376" y="2132" font-size="86" textLength="144" lengthAdjust="spacingAndGlyphs">CP6</text>

<!-- frame on top -->
<rect x="81" y="79" width="1462" height="2135" class="k"/>
</svg>
</body></html>
